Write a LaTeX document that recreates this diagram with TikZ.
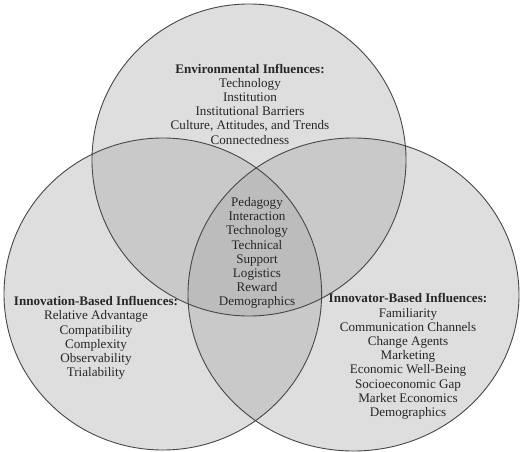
\documentclass[tikz,border=0pt]{standalone}
\usepackage{fontspec}
\setmainfont{Liberation Serif}
\begin{document}
\begin{tikzpicture}[x=1pt,y=-1pt,
  circ/.style={fill=black!35,fill opacity=0.36},
  rim/.style={draw=black!72,line width=0.9pt},
  txt/.style={align=center,inner sep=0pt,text=black!85,font=\fontsize{13.1}{14.2}\selectfont}]
\useasboundingbox[fill=white] (0,0) rectangle (520,452);
% fills
\fill[circ] (249,160) ellipse [x radius=157, y radius=156];
\fill[circ] (162.8,294) ellipse [x radius=158.8, y radius=156];
\fill[circ] (353.5,294.5) ellipse [x radius=165.5, y radius=156.5];
% outlines
\draw[rim] (249,160) ellipse [x radius=157, y radius=156];
\draw[rim] (162.8,294) ellipse [x radius=158.8, y radius=156];
\draw[rim] (353.5,294.5) ellipse [x radius=165.5, y radius=156.5];
% texts
\node[txt] (env) at (250,104) {\textbf{Environmental Influences:}\\Technology\\Institution\\Institutional Barriers\\Culture, Attitudes, and Trends\\Connectedness};
\node[txt] (core) at (257,253) {Pedagogy\\Interaction\\Technology\\Technical\\Support\\Logistics\\Reward\\Demographics};
\node[txt] (inn) at (96,338) {\textbf{Innovation-Based Influences:}\\Relative Advantage\\Compatibility\\Complexity\\Observability\\Trialability};
\node[txt] (innr) at (408,356.5) {\textbf{Innovator-Based Influences:}\\Familiarity\\Communication Channels\\Change Agents\\Marketing\\Economic Well-Being\\Socioeconomic Gap\\Market Economics\\Demographics};
\end{tikzpicture}
\end{document}
